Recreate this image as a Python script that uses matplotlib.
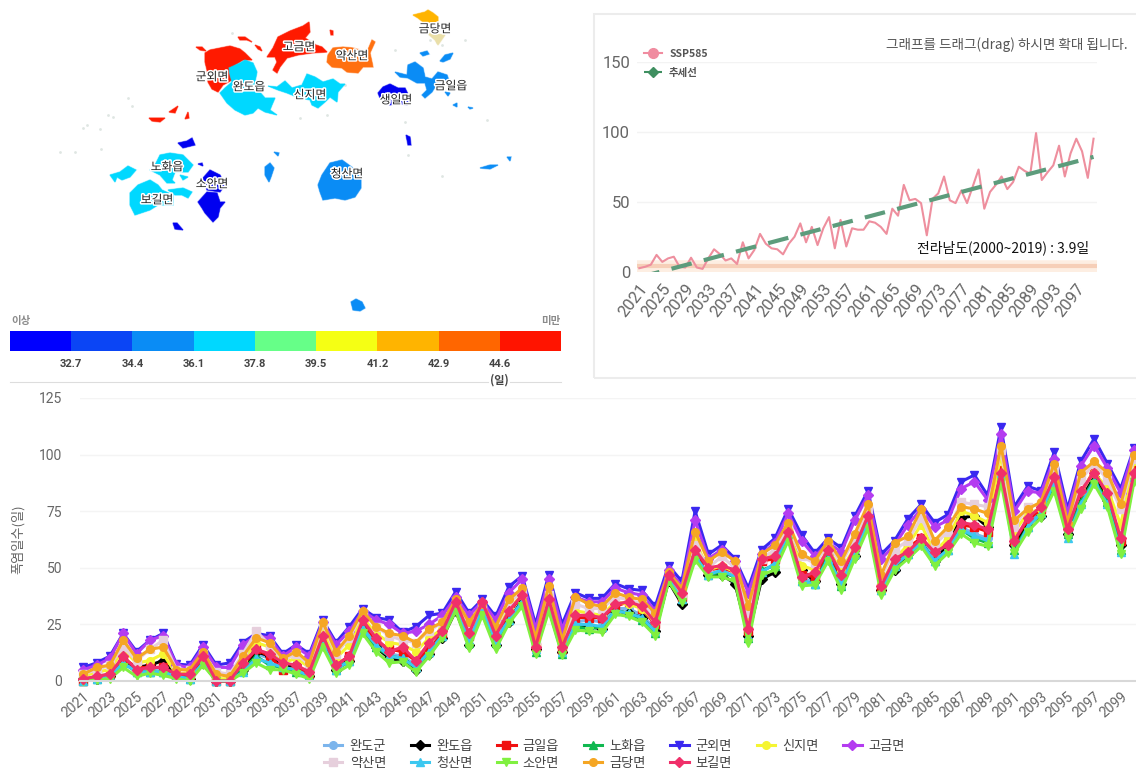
import matplotlib
matplotlib.use('Agg')
import matplotlib.pyplot as plt
import matplotlib.patheffects as pe
from matplotlib.lines import Line2D
from matplotlib.patches import Rectangle

plt.rcParams['font.family'] = ['Noto Sans CJK KR', 'DejaVu Sans']

W, H = 1136, 771

# 지도 (map shapes, in image pixels)
map_regions = {
    '#ff1a00': [
        [(205, 53), (210, 50), (220, 48), (230, 46), (240, 49), (245, 53), (252, 60), (243, 60), (235, 65),
         (229, 72), (232, 80), (223, 85), (218, 92), (212, 89), (208, 82), (207, 70), (205, 62)],
        [(267, 57), (273, 48), (278, 37), (290, 31), (303, 26), (309, 22), (310, 32), (305, 38), (316, 45),
         (322, 47), (327, 52), (312, 53), (298, 55), (287, 58), (280, 67), (277, 73), (273, 70), (277, 62), (275, 57)],
        [(149, 118), (165, 118), (160, 122), (152, 121)],
        [(169, 112), (178, 106), (175, 113)],
        [(185, 119), (188, 112), (189, 118)],
        [(238, 37), (245, 37), (252, 42), (247, 40), (240, 40)],
        [(196, 47), (202, 47), (206, 51), (200, 50)],
        [(255, 45), (260, 47), (262, 51), (258, 49)],
        [(330, 30), (333, 31), (333, 35), (331, 35)],
    ],
    '#ff7010': [
        [(328, 55), (333, 48), (343, 47), (353, 48), (367, 52), (372, 40), (375, 42), (370, 53), (372, 62),
         (373, 67), (363, 67), (358, 73), (347, 72), (342, 68), (332, 67), (327, 62)],
    ],
    '#ffb400': [
        [(413, 15), (425, 12), (428, 10), (433, 13), (438, 17), (438, 23), (430, 23), (423, 22), (418, 18)],
    ],
    '#eadfa8': [
        [(427, 33), (445, 35), (438, 45), (435, 40)],
    ],
    '#00d8ff': [
        [(229, 68), (240, 63), (245, 60), (253, 63), (257, 72), (255, 82), (258, 90), (265, 98), (275, 98),
         (272, 105), (270, 110), (277, 115), (265, 112), (258, 108), (253, 113), (245, 115), (235, 110),
         (227, 103), (220, 93), (225, 88), (232, 82), (230, 75)],
        [(268, 86), (277, 87), (285, 81), (292, 88), (302, 85), (307, 74), (315, 77), (323, 82), (333, 79),
         (340, 84), (345, 84), (338, 92), (337, 102), (330, 97), (325, 102), (318, 108), (312, 105),
         (310, 100), (297, 97), (287, 93), (278, 90)],
        [(130, 193), (138, 185), (150, 180), (158, 185), (162, 190), (173, 195), (173, 205), (158, 205),
         (150, 210), (135, 215), (130, 205)],
        [(155, 165), (160, 155), (170, 153), (183, 155), (193, 165), (188, 172), (175, 172), (172, 180),
         (175, 183), (167, 183), (160, 175), (150, 170)],
        [(110, 175), (120, 172), (128, 166), (136, 170), (130, 177), (122, 180), (117, 177), (115, 182)],
        [(168, 190), (183, 188), (192, 192), (188, 198), (182, 195), (175, 195)],
        [(180, 175), (188, 177), (183, 180)],
    ],
    '#0a8cf5': [
        [(395, 72), (407, 75), (408, 65), (415, 62), (423, 68), (425, 77), (432, 79), (438, 72), (447, 75),
         (450, 83), (435, 87), (432, 92), (425, 98), (422, 95), (427, 90), (425, 83), (417, 83), (408, 78), (400, 77)],
        [(322, 175), (330, 163), (342, 160), (353, 168), (361, 178), (361, 188), (355, 197), (345, 200),
         (335, 198), (323, 200), (320, 192), (318, 185)],
        [(265, 167), (270, 163), (274, 168), (271, 177), (269, 182), (265, 175)],
        [(351, 302), (356, 299), (362, 302), (365, 308), (360, 311), (353, 310)],
        [(420, 53), (427, 51), (429, 54), (423, 56)],
        [(440, 61), (445, 55), (453, 53), (450, 59), (443, 62)],
        [(480, 168), (490, 165), (498, 165), (490, 169)],
        [(507, 157), (511, 157), (510, 161)],
        [(274, 152), (279, 153), (278, 156)],
        [(445, 92), (450, 93), (448, 96)],
        [(453, 105), (457, 103), (457, 107)],
        [(468, 107), (473, 108), (470, 109)],
    ],
    '#0000f0': [
        [(378, 93), (383, 87), (390, 84), (398, 88), (405, 88), (410, 98), (407, 105), (397, 103), (390, 105), (380, 98)],
        [(198, 202), (207, 192), (217, 193), (220, 202), (225, 202), (220, 208), (218, 217), (213, 222), (205, 213), (202, 208)],
        [(203, 178), (210, 170), (220, 175), (225, 185), (220, 192), (207, 190)],
        [(178, 143), (187, 141), (192, 138), (195, 145), (183, 148)],
        [(173, 223), (177, 223), (183, 230), (175, 229)],
        [(406, 135), (410, 137), (411, 145), (408, 145)],
        [(198, 164), (202, 163), (203, 166)],
    ],
}
map_specks_x = [60, 75, 83, 87, 100, 101, 108, 113, 128, 132, 232, 300, 327, 345, 395, 405, 408, 430, 437, 442, 465, 487, 442]
map_specks_y = [152, 152, 128, 125, 129, 149, 115, 117, 98, 106, 33, 118, 115, 85, 50, 122, 155, 40, 42, 45, 40, 120, 176]
map_labels = ['금당면', '고금면', '약산면', '군외면', '완도읍', '신지면', '금일읍', '생일면',
              '노화읍', '청산면', '소안면', '보길면']
map_label_x = [435, 299, 352, 212, 249, 310, 451, 396, 167, 347, 212, 157]
map_label_y = [29, 47, 56, 77, 87, 95, 86, 100, 167, 174, 184, 200]

# 범례 색 구간
legend_colors = ['#0000ff', '#0b45f5', '#0a8cf5', '#00d8ff', '#66ff88', '#f5ff14', '#ffb400', '#ff6600', '#ff1400']
legend_levels = ['32.7', '34.4', '36.1', '37.8', '39.5', '41.2', '42.9', '44.6']

# 전남 SSP585 + 추세선
years = list(range(2021, 2101))
ssp585 = [2.5, 3.5, 5, 12, 7, 9.5, 10.7, 3.5, 3, 10,
          3, 2, 9.5, 16, 12.6, 8, 9.5, 5.5, 21, 9.5,
          15.5, 27, 20, 16.7, 16, 12.4, 20, 25, 34.5, 21,
          32, 19, 31, 39, 16.7, 37, 18, 31, 30, 30,
          36, 35, 32, 27, 45, 40, 62, 51, 52, 49,
          26, 52, 56, 68, 51, 49, 58, 49, 61, 73,
          45, 57, 62, 68, 59, 64, 75, 72, 70, 99,
          65.5, 71, 76, 90, 68, 84.5, 95, 86, 67, 95]
trend_years = [2021, 2100]
trend_values = [-4, 82]
jeonnam_mean = 3.9

# 읍면별 폭염일수
wando_gun = [1, 2, 3, 10, 5, 5, 6, 2, 2, 9,
             0, 0, 6, 12, 10, 7, 6, 3, 18, 6,
             10, 24, 17, 12, 11, 7, 14, 21, 32, 19,
             31, 18, 28, 35, 14, 33, 14, 26, 27, 26,
             32, 32, 29, 23, 45, 36, 57, 47, 48, 46,
             21, 48, 52, 65, 45, 44, 55, 44, 56, 70,
             41, 51, 57, 62, 55, 59, 68, 65, 63, 92,
             60, 70, 75, 87, 66, 80, 90, 81, 62, 91]
wando_eup = [1, 1, 2, 9, 6, 7, 9, 2, 1, 8,
             0, 0, 5, 13, 11, 6, 7, 2, 17, 5,
             9, 23, 15, 10, 9, 5, 12, 19, 31, 16,
             31, 16, 26, 36, 14, 33, 13, 24, 24, 23,
             31, 30, 28, 22, 44, 34, 62, 47, 47, 43,
             20, 45, 48, 69, 49, 44, 56, 43, 55, 71,
             40, 49, 56, 61, 53, 60, 72, 73, 68, 90,
             60, 69, 73, 88, 65, 80, 90, 80, 60, 93]
geumil = [0, 2, 3, 10, 6, 6, 6, 2, 2, 10,
          0, 0, 7, 14, 11, 5, 6, 3, 19, 7,
          11, 26, 18, 14, 13, 9, 14, 21, 34, 20,
          34, 20, 30, 38, 15, 35, 14, 28, 28, 28,
          33, 35, 32, 25, 47, 37, 56, 49, 50, 48,
          22, 53, 54, 67, 47, 46, 57, 46, 59, 72,
          41, 52, 59, 63, 57, 61, 69, 68, 66, 93,
          62, 71, 76, 88, 68, 83, 93, 82, 62, 95]
nohwa = [0, 1, 2, 8, 4, 4, 4, 2, 1, 8,
         0, 0, 5, 11, 7, 6, 4, 2, 16, 5,
         9, 23, 15, 11, 10, 6, 13, 20, 32, 17,
         31, 17, 27, 35, 13, 32, 12, 24, 23, 24,
         31, 30, 27, 21, 45, 36, 55, 47, 48, 46,
         19, 49, 51, 65, 44, 43, 55, 42, 56, 69,
         40, 51, 56, 61, 53, 58, 67, 63, 61, 91,
         58, 68, 74, 87, 65, 79, 89, 79, 58, 90]
gunoe = [6, 8, 11, 21, 13, 18, 21, 7.5, 7, 16,
         7, 8, 17, 21, 20, 12, 16, 12, 27, 17,
         24, 32, 28, 27, 21.5, 24, 29, 30, 39.5, 30,
         36, 28.5, 41.7, 46.5, 25, 47, 25, 39, 36.5, 36.5,
         43, 40.7, 40, 33, 51, 44, 75, 56, 60, 54,
         41, 58, 63, 76, 64.6, 56.5, 63, 58.7, 72.7, 84,
         56, 62, 71.7, 78, 70, 73.5, 88, 91, 82, 112,
         77, 86, 84, 101, 76, 97, 107, 96, 85, 103]
sinji = [2, 4, 5, 14, 8, 9, 12, 3, 4, 11,
         1, 1, 9, 17, 15, 8, 10, 6, 23, 10,
         16, 28, 21, 17, 16, 13, 19, 23, 34, 22,
         32, 21, 32, 38, 16, 37, 15, 31, 30, 29,
         35, 34, 32, 26, 46, 38, 62, 49, 51, 48,
         27, 54, 56, 66, 51, 49, 58, 49, 59, 74,
         43, 54, 60, 69, 57, 63, 75, 73, 70, 100,
         66, 74, 76, 90, 68, 84, 92, 85, 69, 97]
gogeum = [5, 7, 10, 21, 12, 18, 20, 7, 6, 15,
          6, 6, 16, 20, 19, 11, 15, 11, 26, 16,
          22, 31, 27, 25, 21, 22, 25, 29, 37, 29,
          35, 27, 39, 45, 23, 45, 23, 37, 35, 35,
          41, 39, 38, 31, 49, 42, 71, 54, 58, 53,
          39, 56, 61, 74, 62, 55, 61, 57, 71, 82,
          54, 60, 69, 76, 68, 71, 85, 88, 80, 109,
          75, 84, 83, 98, 74, 95, 104, 94, 83, 102]
yaksan = [3, 5, 7, 15, 9, 14, 18, 5, 5, 12,
          4, 3, 12, 22, 16, 9, 12, 7, 25, 12,
          19, 30, 24, 20, 18, 17, 22, 26, 35, 25,
          33, 23, 35, 39, 18, 38, 17, 34, 32, 32,
          37, 36, 34, 28, 47, 39, 60, 50, 55, 50,
          30, 54, 58, 68, 55, 52, 60, 52, 63, 76,
          46, 58, 62, 72, 60, 66, 79, 78, 77, 102,
          68, 77, 78, 93, 69, 89, 96, 89, 76, 98]
cheongsan = [0, 1, 2, 8, 4, 4, 4, 2, 1, 8,
             0, 0, 4, 10, 8, 6, 5, 2, 16, 5,
             9, 23, 16, 11, 10, 6, 13, 20, 32, 18,
             31, 18, 27, 35, 14, 32, 13, 25, 25, 24,
             31, 30, 28, 22, 45, 36, 55, 47, 49, 46,
             20, 48, 52, 65, 44, 43, 54, 43, 56, 70,
             40, 51, 56, 61, 53, 58, 67, 64, 62, 92,
             56, 68, 74, 88, 63, 78, 88, 78, 57, 90]
soan = [0, 0.5, 1, 6, 2, 3.5, 2.5, 1, 0, 7,
        0, 0, 3.5, 8, 5, 5, 3, 1, 15, 3.5,
        7, 21, 13, 8, 8.5, 4, 11, 19, 31, 14.5,
        29, 14, 25.5, 33, 12, 31, 11.5, 22.5, 22, 21.5,
        29.5, 28.5, 26, 20, 44, 35, 53.5, 46, 46, 44,
        17, 47, 49, 62, 42, 42.5, 53, 40, 54, 67.5,
        38, 49, 54, 59.5, 51, 56.5, 65, 61, 59.5, 88,
        56.5, 66, 72, 84, 63, 76, 87, 77, 56, 88]
geumdang = [3, 6, 7, 18, 10, 14, 15, 5, 5, 13,
            3, 2, 11, 19, 17, 10, 13, 8, 26, 13,
            20, 31, 24, 21, 20, 17, 23, 26, 36, 26,
            34, 24, 36, 41, 19, 42, 18, 37, 34, 33,
            39, 37, 36, 30, 48, 41, 66, 53, 57, 53,
            33, 56, 60, 70, 56, 53, 62, 53, 65, 78,
            47, 61, 64, 76, 62, 68, 77, 76, 74, 104,
            71, 76, 79, 96, 70, 92, 97, 92, 78, 100]
bogil = [1, 2, 3, 11, 5, 6, 6, 3, 3, 11,
         0, 0, 8, 14, 12, 8, 7, 4, 20, 7,
         11, 27, 19, 13, 15, 9, 17, 22, 35, 21,
         35, 20, 31, 38, 15, 36, 15, 29, 29, 28,
         34, 35, 33, 26, 47, 39, 58, 50, 51, 49,
         23, 54, 55, 66, 46, 48, 58, 47, 59, 73,
         42, 54, 57, 63, 57, 60, 70, 69, 67, 92,
         62, 72, 77, 90, 67, 84, 92, 83, 63, 92]

series = [
    ('완도군', wando_gun, '#7cb5ec', 'o'),
    ('완도읍', wando_eup, '#000000', 'D'),
    ('금일읍', geumil, '#f01010', 's'),
    ('노화읍', nohwa, '#10b850', '^'),
    ('군외면', gunoe, '#3a28f0', 'v'),
    ('신지면', sinji, '#f5f532', 'o'),
    ('고금면', gogeum, '#b43cf0', 'D'),
    ('약산면', yaksan, '#e6cfdc', 's'),
    ('청산면', cheongsan, '#3cc8f0', '^'),
    ('소안면', soan, '#80f040', 'v'),
    ('금당면', geumdang, '#f5a623', 'o'),
    ('보길면', bogil, '#f0306a', 'D'),
]
# matplotlib fills legend columns top to bottom
legend_order = ['완도군', '약산면', '완도읍', '청산면', '금일읍', '소안면', '노화읍', '금당면', '군외면', '보길면', '신지면', '고금면']

fig = plt.figure(figsize=(W / 100, H / 100), dpi=100)


def px_axes(x0, y0, x1, y1):
    # axes placed by image pixels, y counted from the top
    return fig.add_axes([x0 / W, 1 - y1 / H, (x1 - x0) / W, (y1 - y0) / H])


def clean_spines(ax):
    for spine in ax.spines.values():
        spine.set_visible(False)


# map panel
ax_map = px_axes(0, 0, 570, 320)
ax_map.set_xlim(0, 570)
ax_map.set_ylim(320, 0)
ax_map.axis('off')
ax_map.scatter(map_specks_x, map_specks_y, s=4, color='#dfe6e2', marker='o', lw=0)
for color, shapes in map_regions.items():
    for shape in shapes:
        xs, ys = zip(*shape)
        ax_map.fill(xs, ys, facecolor=color, edgecolor=color, lw=1.2, alpha=0.35)
        ax_map.fill(xs, ys, color=color, lw=0.3)
for name, x, y in zip(map_labels, map_label_x, map_label_y):
    ax_map.text(x, y, name, ha='center', va='center', fontsize=8.5, color='#222222',
                path_effects=[pe.withStroke(linewidth=2.2, foreground='white')])

# colour scale
ax_scale = px_axes(10, 331, 561, 351)
ax_scale.barh([0] * len(legend_colors), [1] * len(legend_colors), left=range(len(legend_colors)),
              height=1, color=legend_colors)
ax_scale.set_xlim(0, len(legend_colors))
ax_scale.set_ylim(-0.5, 0.5)
clean_spines(ax_scale)
ax_scale.set_yticks([])
ax_scale.set_xticks(range(1, len(legend_colors)))
ax_scale.set_xticklabels(legend_levels, fontsize=8, fontweight='bold', color='#444444', family='Roboto')
ax_scale.tick_params(axis='x', length=0, pad=6)
fig.text(21 / W, 1 - 321 / H, '이상', ha='center', va='center', fontsize=7.5, color='#8a8a8a', fontweight='bold')
fig.text(551 / W, 1 - 321 / H, '미만', ha='center', va='center', fontsize=7.5, color='#8a8a8a', fontweight='bold')
fig.text(499 / W, 1 - 380 / H, '(일)', ha='center', va='center', fontsize=8, color='#444444', fontweight='bold')
fig.add_artist(Line2D([10 / W, 488 / W], [1 - 382 / H, 1 - 382 / H], color='#dddddd', lw=0.8))
fig.add_artist(Line2D([510 / W, 561 / W], [1 - 382 / H, 1 - 382 / H], color='#dddddd', lw=0.8))

# top right panel frame
fig.add_artist(Rectangle((594 / W, 1 - 378 / H), 560 / W, 364 / H, transform=fig.transFigure,
                         fill=False, edgecolor='#ececec', lw=1.5))

ax_top = px_axes(637, 61.7, 1097, 271.7)
ax_top.axhline(jeonnam_mean, color='#fdeee2', lw=9, zorder=1)
ax_top.axhline(jeonnam_mean, color='#f6cfb8', lw=3, zorder=1.5)
ax_top.plot(years, ssp585, color='#ee8f9e', lw=1.5, zorder=3)
ax_top.plot(trend_years, trend_values, color='#5d9c7c', lw=3, ls=(0, (5, 3)), zorder=4)
ax_top.set_xlim(2020.6, 2100.6)
ax_top.set_ylim(0, 150)
clean_spines(ax_top)
ax_top.grid(axis='y', color='#f3f3f3', lw=1)
ax_top.set_axisbelow(True)
ax_top.set_yticks([0, 50, 100, 150])
ax_top.set_xticks(years[::4])
ax_top.tick_params(length=0)
ax_top.tick_params(axis='y', labelsize=12, labelcolor='#666666', pad=5)
ax_top.tick_params(axis='x', labelsize=12, labelcolor='#666666', pad=7)
for lab in ax_top.get_xticklabels() + ax_top.get_yticklabels():
    lab.set_family('Roboto')
for lab in ax_top.get_xticklabels():
    lab.set_rotation(52)
    lab.set_ha('right')
    lab.set_rotation_mode('anchor')
ax_top.legend(handles=[
    Line2D([], [], color='#f08ca0', marker='o', ms=7, lw=1.5, label='SSP585'),
    Line2D([], [], color='#3f8f60', marker='D', ms=5, lw=1.5, ls='--', label='추세선'),
], loc='upper left', bbox_to_anchor=(-0.005, 1.105), frameon=False, labelcolor='#555555',
    handlelength=1.7, handletextpad=0.7, labelspacing=0.85, prop={'weight': 'bold', 'size': 7.5})
fig.text(1128 / W, 1 - 45 / H, '그래프를 드래그(drag) 하시면 확대 됩니다.', ha='right', va='center',
         fontsize=9.8, color='#555555')
fig.text(917 / W, 1 - 248 / H, '전라남도(2000~2019) : 3.9일', ha='left', va='center',
         fontsize=10, color='#111111')

# bottom chart
ax = px_axes(80, 398, 1136, 681)
handles = {}
for name, values, color, marker in series:
    handles[name], = ax.plot(years, values, color=color, marker=marker, ms=5.5, lw=2.2, label=name, clip_on=False)
ax.set_xlim(2020.75, 2100.15)
ax.set_ylim(0, 125)
clean_spines(ax)
ax.spines['bottom'].set_visible(True)
ax.spines['bottom'].set_color('#d8d8d8')
ax.spines['bottom'].set_linewidth(1.5)
ax.grid(axis='y', color='#f4f4f4', lw=1)
ax.set_axisbelow(True)
ax.set_yticks([0, 25, 50, 75, 100, 125])
ax.set_xticks(years[::2])
ax.tick_params(length=0)
ax.tick_params(axis='y', labelsize=10, labelcolor='#666666', pad=13)
ax.tick_params(axis='x', labelsize=10, labelcolor='#666666', pad=6)
for lab in ax.get_xticklabels() + ax.get_yticklabels():
    lab.set_family('Roboto')
for lab in ax.get_xticklabels():
    lab.set_rotation(40)
    lab.set_ha('right')
    lab.set_rotation_mode('anchor')
fig.text(18 / W, 1 - 539 / H, '폭염일수(일)', rotation=90, ha='center', va='center', fontsize=9.5, color='#666666')
ax.legend(handles=[handles[n] for n in legend_order], labels=legend_order,
          loc='upper left', bbox_to_anchor=(244 / 1056, -59 / 283), ncol=7, frameon=False, fontsize=9.5,
          labelcolor='#444444', handlelength=1.4, handletextpad=0.55, columnspacing=1.85,
          labelspacing=0.3, borderpad=0, borderaxespad=0)

fig.savefig('out.png', dpi=100)
plt.close(fig)
